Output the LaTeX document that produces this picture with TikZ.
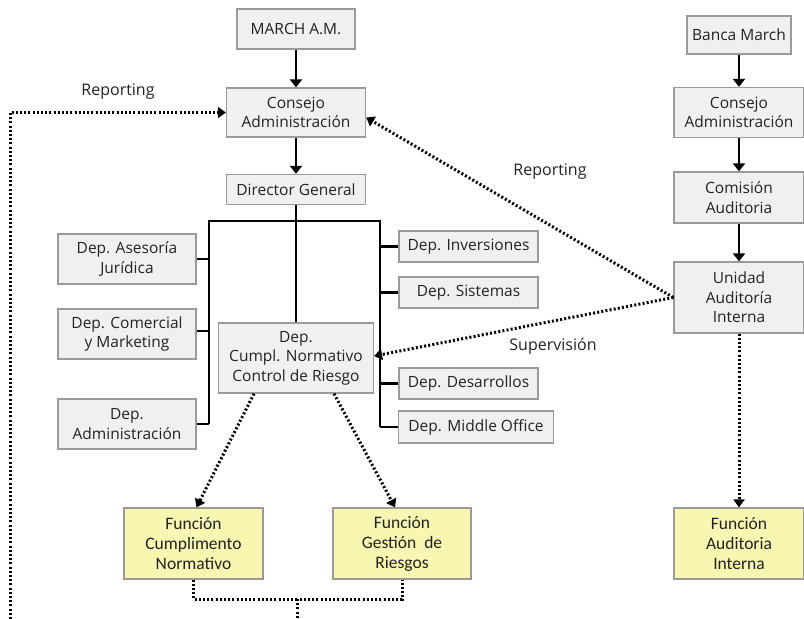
\documentclass[tikz,border=0pt]{standalone}
\usepackage{fontspec}
\setmainfont{Open Sans}
\newfontfamily\narrowfont{Carlito}
\usetikzlibrary{arrows.meta}
\definecolor{boxfill}{HTML}{F0F0F0}
\definecolor{boxdraw}{HTML}{9A9A9A}
\definecolor{yelfill}{HTML}{F7F7B2}
\definecolor{txt}{HTML}{222222}
\tikzset{
  gbox/.style={draw=boxdraw, fill=boxfill, line width=1.3pt, align=center, inner sep=0pt,
    text=txt, font=\fontsize{15.5}{19.5}\selectfont},
  ybox/.style={draw=boxdraw, fill=yelfill, line width=1.3pt, align=center, inner sep=0pt,
    text=txt, font=\narrowfont\fontsize{17.5}{20}\selectfont},
  solidarrow/.style={line width=2.4pt, -{Triangle[length=8pt,width=12pt]}},
  busline/.style={line width=2.4pt},
  dotline/.style={line width=3pt, dash pattern=on 2pt off 2.2pt},
  dotarrow/.style={dotline, -{Triangle[length=8pt,width=11pt]}},
  lbl/.style={text=txt, font=\fontsize{16}{19}\selectfont},
}
\begin{document}
\begin{tikzpicture}[x=1pt,y=-1pt]
\useasboundingbox (0,0) rectangle (804,619);
\fill[white] (0,0) rectangle (804,619);

% left column
\node[gbox, minimum width=118pt, minimum height=40pt] (march) at (296,29) {MARCH A.M.};
\node[gbox, minimum width=139pt, minimum height=49pt] (cons1) at (296,112.5) {Consejo\\Administración};
\node[gbox, minimum width=139pt, minimum height=30pt] (dg) at (296,189.5) {Director General};

\node[gbox, minimum width=138pt, minimum height=50pt] (aseso) at (127,259) {Dep. Asesoría\\Jurídica};
\node[gbox, minimum width=138pt, minimum height=50pt] (comer) at (127,334) {Dep. Comercial\\y Marketing};
\node[gbox, minimum width=138pt, minimum height=50pt] (admin) at (127,424) {Dep.\\Administración};

\node[gbox, minimum width=155pt, minimum height=70pt] (cumpl) at (296,358) {Dep.\\Cumpl. Normativo\\Control de Riesgo};

\node[gbox, minimum width=139pt, minimum height=31pt] (inver) at (468.5,246.5) {Dep. Inversiones};
\node[gbox, minimum width=139pt, minimum height=31pt] (siste) at (468.5,292.5) {Dep. Sistemas};
\node[gbox, minimum width=139pt, minimum height=31pt] (desar) at (468.5,383.5) {Dep. Desarrollos};
\node[gbox, minimum width=155pt, minimum height=32pt] (middle) at (476,427) {Dep. Middle Office};

\node[ybox, minimum width=139pt, minimum height=71pt] (fcn) at (193.5,543.5) {Función\\Cumplimento\\Normativo};
\node[ybox, minimum width=138pt, minimum height=71pt] (fgr) at (402,543.5) {Función\\Gestión~ de\\Riesgos};

% right column
\node[gbox, minimum width=104pt, minimum height=38pt] (banca) at (739,35) {Banca March};
\node[gbox, minimum width=130pt, minimum height=50pt] (cons2) at (739,112.5) {Consejo\\Administración};
\node[gbox, minimum width=130pt, minimum height=51pt] (comis) at (739,197.5) {Comisión\\Auditoria};
\node[gbox, minimum width=130pt, minimum height=71pt] (unidad) at (739,297.5) {Unidad\\Auditoría\\Interna};
\node[ybox, minimum width=130pt, minimum height=71pt] (fai) at (739,543.5) {Función\\Auditoria\\Interna};

% labels
\node[lbl] (rep1) at (118,92) {Reporting};
\node[lbl] (rep2) at (550,172) {Reporting};
\node[lbl] (sup) at (553,346) {Supervisión};

% solid arrows
\draw[solidarrow] (march.south) -- (cons1.north);
\draw[solidarrow] (cons1.south) -- (dg.north);
\draw[solidarrow] (banca.south) -- (cons2.north);
\draw[solidarrow] (cons2.south) -- (comis.north);
\draw[solidarrow] (comis.south) -- (unidad.north);

% bus
\coordinate (busL) at (209,221);
\coordinate (busR) at (380,221);
\coordinate (busLend) at (209,424);
\coordinate (busRend) at (380,427);
\draw[busline] (dg.south) -- (cumpl.north);
\draw[busline, line join=miter] (busLend) -- (busL) -- (busR) -- (busRend);
\draw[busline] (aseso.east) -- (aseso.east -| busL);
\draw[busline] ([yshift=3pt]comer.east) -- ([yshift=3pt]comer.east -| busL);
\draw[busline] (admin.east) -- (admin.east -| busL);
\draw[busline] (inver.west) -- (inver.west -| busR);
\draw[busline] (siste.west) -- (siste.west -| busR);
\draw[busline] (desar.west) -- (desar.west -| busR);
\draw[busline] (middle.west) -- (middle.west -| busR);

% dotted connectors
\coordinate (lbot) at (10,619);
\draw[dotarrow] (lbot) |- (cons1.west);
\draw[dotarrow] (unidad.west) -- ([yshift=-5pt]cons1.east);
\draw[dotarrow] (unidad.west) -- ([yshift=2pt]cumpl.east);
\draw[dotarrow] (unidad.south) -- (fai.north);
\draw[dotarrow] ([xshift=-42pt]cumpl.south) -- ([xshift=3pt]fcn.north);
\draw[dotarrow] ([xshift=38pt]cumpl.south) -- ([xshift=-7pt]fgr.north);
\draw[dotline] (fcn.south) -- ++(0,20) -| (fgr.south);
\coordinate (bmid) at (297.5,599);
\coordinate (bbot) at (297.5,619);
\draw[dotline] (bmid) -- (bbot);
\end{tikzpicture}
\end{document}
